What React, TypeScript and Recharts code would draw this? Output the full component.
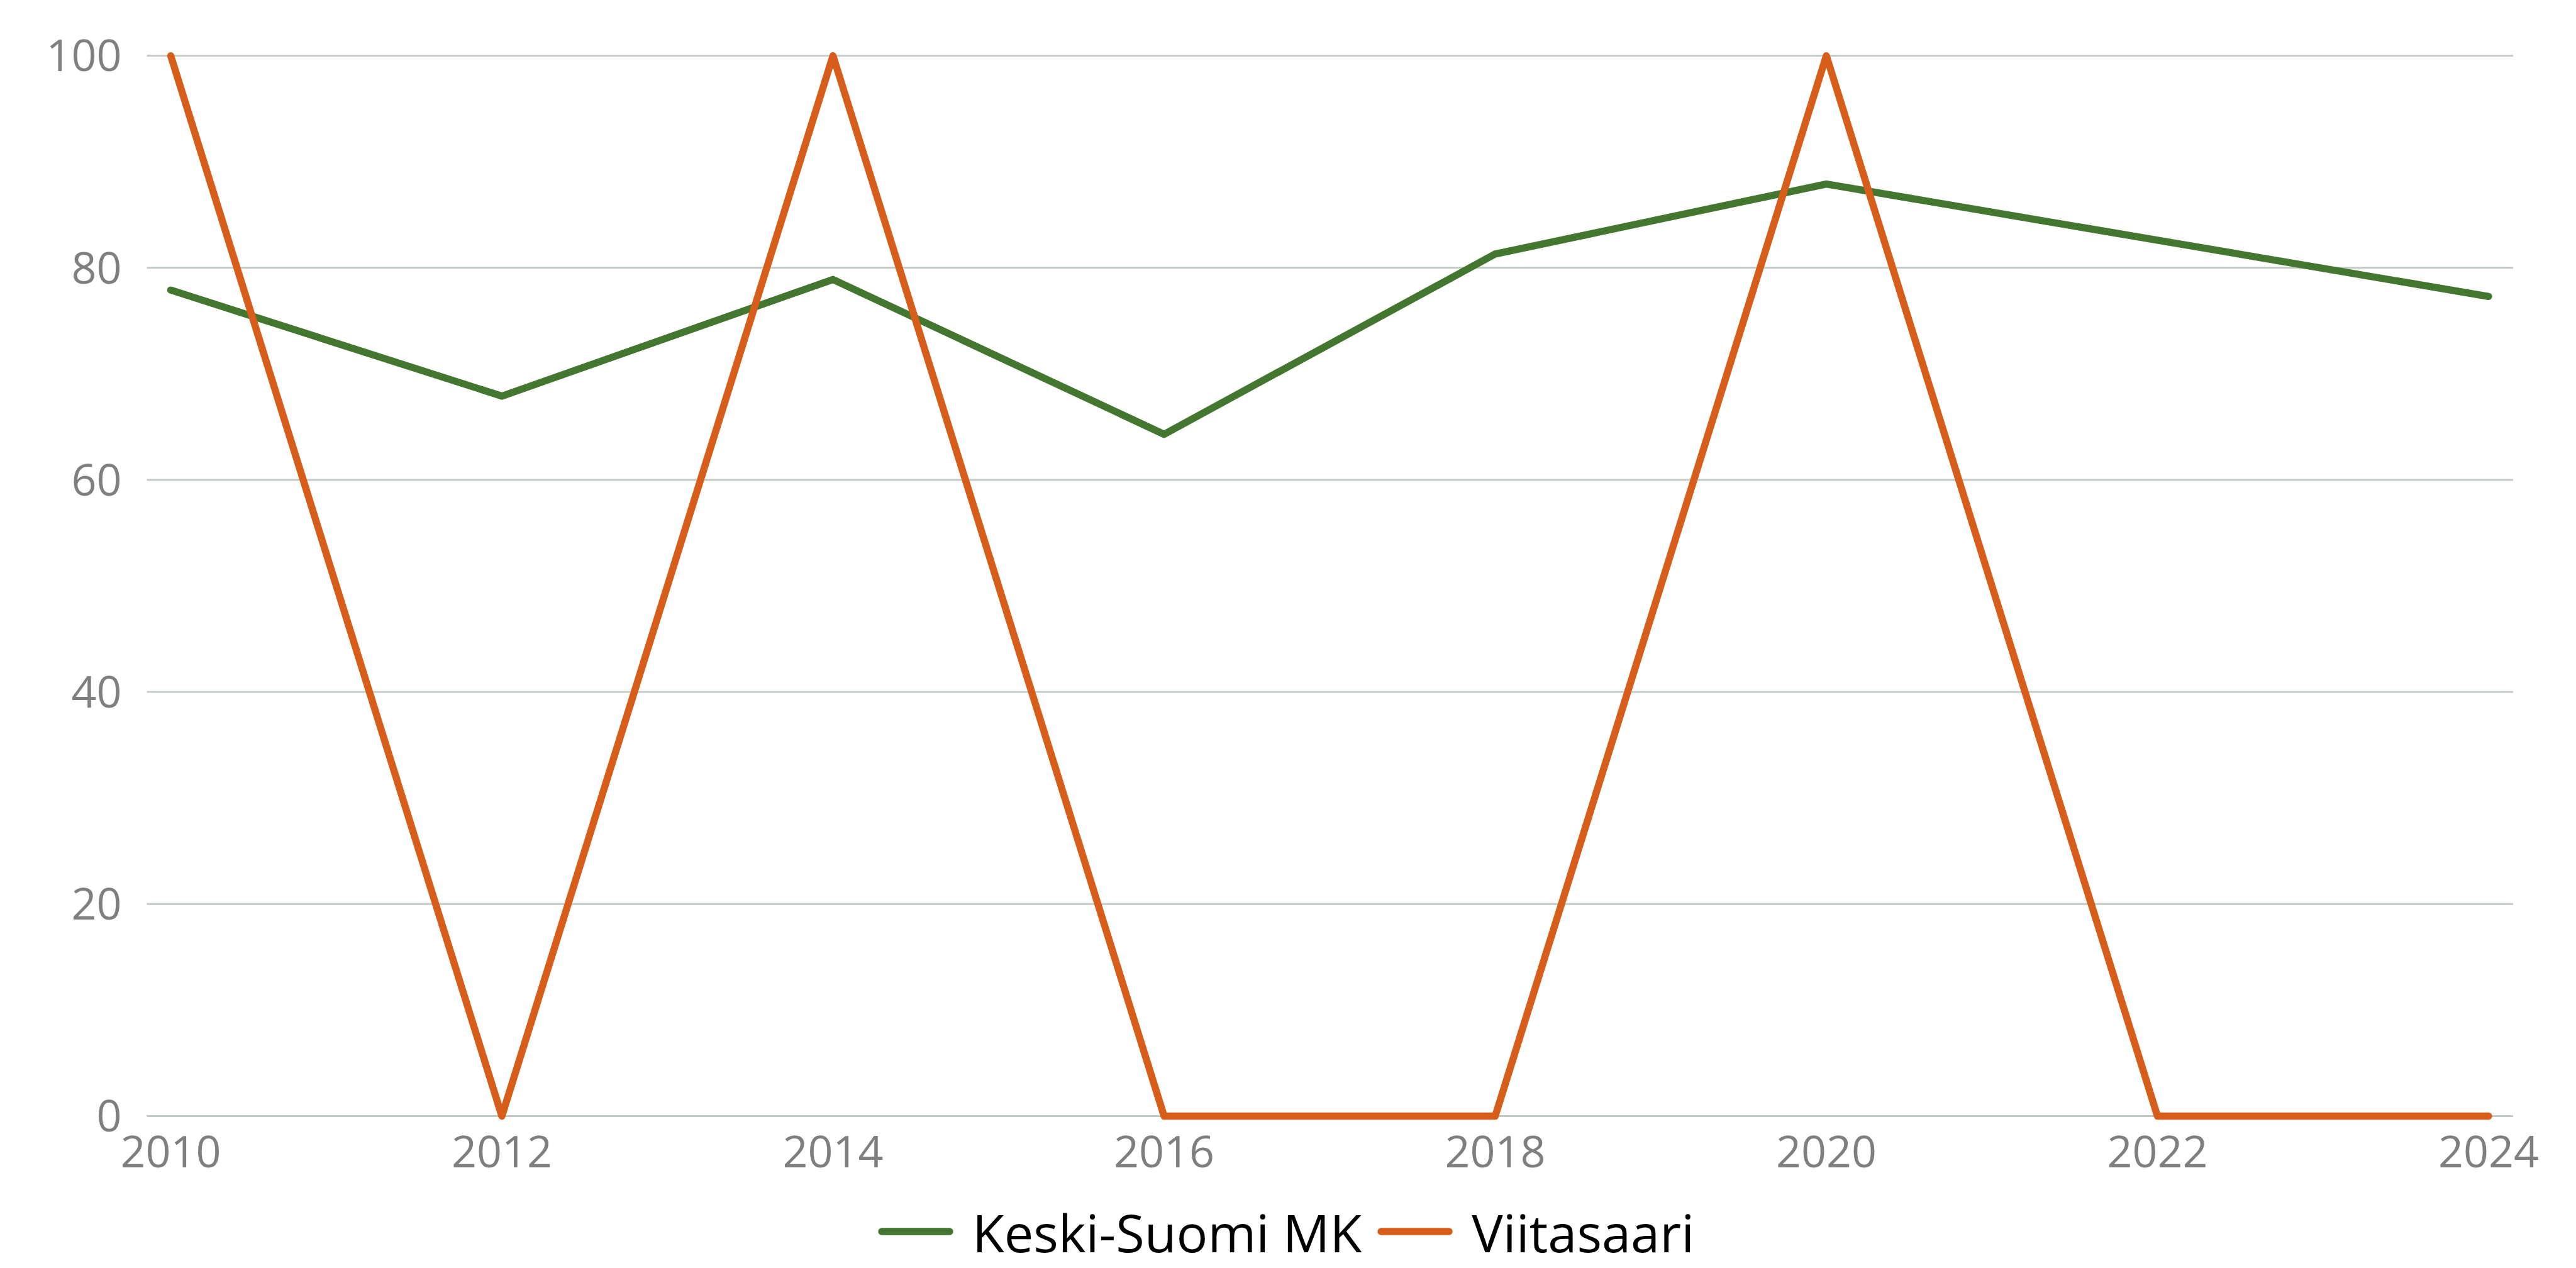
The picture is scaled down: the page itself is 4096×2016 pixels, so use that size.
import React from 'react';
import { LineChart, Line, XAxis, YAxis, CartesianGrid, Legend } from 'recharts';

const years = ['2010', '2012', '2014', '2016', '2018', '2020', '2022', '2024'];
const keskiSuomi = [77.9, 67.9, 78.9, 64.3, 81.3, 87.9, 82.6, 77.3];
const viitasaari = [100, 0, 100, 0, 0, 100, 0, 0];
const yTicks = [0, 20, 40, 60, 80, 100];

const seriesNames = ['Keski-Suomi MK', 'Viitasaari'];
const seriesColors = ['#43762F', '#D65E1A'];

const data = years.map((y, i) => ({ year: y, ks: keskiSuomi[i], vi: viitasaari[i] }));

const FONT = '"Open Sans", "Noto Sans", sans-serif';

const LegendContent = () => (
  <div
    style={{
      height: 100,
      display: 'flex',
      justifyContent: 'center',
      alignItems: 'flex-end',
      paddingLeft: 94,
      paddingBottom: 16,
      boxSizing: 'border-box',
    }}
  >
    {seriesNames.map((n, i) => (
      <div key={n} style={{ display: 'flex', alignItems: 'center', marginRight: i === 0 ? 25 : 0, height: 83 }}>
        <svg width={120} height={12} style={{ marginRight: 30, position: 'relative', top: -1 }}>
          <line x1={6} y1={6} x2={114} y2={6} stroke={seriesColors[i]} strokeWidth={11.4} strokeLinecap="round" />
        </svg>
        <span
          style={{
            display: 'inline-block',
            height: 83,
            fontFamily: FONT,
            fontSize: 83,
            lineHeight: '83px',
            color: '#000',
            whiteSpace: 'nowrap',
          }}
        >
          {n}
        </span>
      </div>
    ))}
  </div>
);

export default function App() {
  return (
    <div style={{ position: 'absolute', left: 0, top: 0, width: 4096, height: 2016, background: '#fff' }}>
      <LineChart width={4096} height={2016} data={data} margin={{ top: 88.6, right: 100, bottom: 0, left: 0 }}>
        <CartesianGrid horizontal vertical={false} stroke="#C3C9C3" strokeWidth={2.9} />
        <XAxis
          dataKey="year"
          type="category"
          height={141.5}
          padding={{ left: 38, right: 39 }}
          axisLine={false}
          tickLine={false}
          tickSize={0}
          tickMargin={32}
          interval={0}
          tick={{ fill: '#7F7F7F', fontSize: 70, fontFamily: FONT }}
        />
        <YAxis
          type="number"
          domain={[0, 100]}
          ticks={yTicks}
          width={233.5}
          axisLine={false}
          tickLine={false}
          tickSize={0}
          tickMargin={40}
          tick={{ fill: '#7F7F7F', fontSize: 70, fontFamily: FONT }}
        />
        <Legend verticalAlign="bottom" height={100} content={<LegendContent />} />
        <Line
          type="linear"
          dataKey="ks"
          name={seriesNames[0]}
          stroke={seriesColors[0]}
          strokeWidth={11.4}
          strokeLinecap="round"
          strokeLinejoin="round"
          dot={false}
          activeDot={false}
          isAnimationActive={false}
        />
        <Line
          type="linear"
          dataKey="vi"
          name={seriesNames[1]}
          stroke={seriesColors[1]}
          strokeWidth={11.4}
          strokeLinecap="round"
          strokeLinejoin="round"
          dot={false}
          activeDot={false}
          isAnimationActive={false}
        />
      </LineChart>
    </div>
  );
}
